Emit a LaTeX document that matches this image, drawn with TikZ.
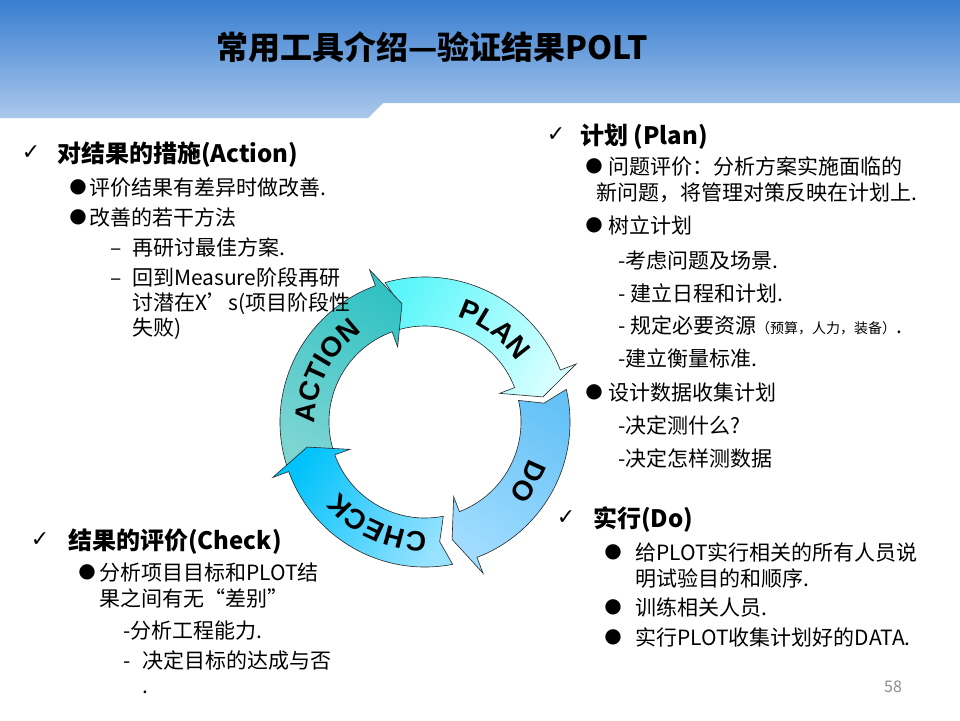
\documentclass[tikz,border=0pt]{standalone}
\usepackage{fontspec}
\setmainfont{Noto Sans CJK SC}
\newfontfamily\symfont{DejaVu Sans}
\newfontfamily\arcfont{Liberation Sans}
\usetikzlibrary{decorations.text}

\definecolor{hdrtop}{RGB}{56,126,208}
\definecolor{hdrbot}{RGB}{170,200,236}
\definecolor{plantail}{RGB}{92,246,250}
\definecolor{planhead}{RGB}{214,255,255}
\definecolor{dotail}{RGB}{102,194,246}
\definecolor{dohead}{RGB}{160,220,255}
\definecolor{checktail}{RGB}{150,226,255}
\definecolor{checkhead}{RGB}{0,194,250}
\definecolor{actiontail}{RGB}{125,213,210}
\definecolor{actionhead}{RGB}{51,194,196}

\tikzset{
	heading/.style={anchor=base west,inner sep=0pt,font=\fontsize{24}{28}\selectfont\bfseries},
	bodytext/.style={anchor=base west,inner sep=0pt,font=\fontsize{21}{25}\selectfont},
	checkmark/.style={anchor=center,inner sep=0pt,font=\symfont\fontsize{22}{22}\selectfont},
	bulletmark/.style={anchor=center,inner sep=0pt,font=\symfont\fontsize{20}{20}\selectfont},
	arrowbody/.style={draw=black!85,line width=0.6pt},
	arctext/.style={decorate,decoration={text along path,text={|\arcfont\bfseries\fontsize{28}{28}\selectfont|#1},text align=center}},
}
% ring of the cycle
\def\ringin{96}
\def\ringout{145}
\def\ringmid{120.5}
\def\barbin{80}
\def\barbout{162}
% tail, notch, head base, tip, tail colour, head colour
\newcommand{\cyclearrow}[6]{%
	\shadedraw[arrowbody,top color=#5,bottom color=#6,shading angle={(#1+#4)/2}]
		(#1:\ringout) -- (#2:\ringmid) -- (#1:\ringin)
		arc[start angle=#1,end angle=#3,radius=\ringin]
		-- (#3:\barbin) -- (#4:\ringmid) -- (#3:\barbout) -- (#3:\ringout)
		arc[start angle=#3,end angle=#1,radius=\ringout] -- cycle;
}

\begin{document}
\begin{tikzpicture}[x=1pt,y=1pt]
	\useasboundingbox (0,0) rectangle (960,-720);
	\fill[white] (0,0) rectangle (960,-720);
	\shade[top color=hdrtop,bottom color=hdrbot] (0,0) -- (960,0) -- (960,-103) -- (383,-103) -- (368,-118) -- (0,-118) -- cycle;
	\node (title) at (432,-59) [anchor=base,inner sep=0pt,font=\fontsize{32}{36}\selectfont\bfseries] {常用工具介绍—验证结果POLT};

	% PDCA cycle
	\begin{scope}[shift={(425,-422)}]
		\cyclearrow{106}{102}{21}{12}{plantail}{planhead}
		\cyclearrow{13}{9}{-69}{-77}{dotail}{dohead}
		\cyclearrow{198}{194}{110}{101}{actiontail}{actionhead}
		\cyclearrow{-79}{-83}{-160}{-168}{checktail}{checkhead}
		\path[arctext={PLAN}] (100:110) arc[start angle=100,end angle=6,radius=110];
		\path[arctext={DO}] (12:110) arc[start angle=12,end angle=-72,radius=110];
		\path[arctext={CHECK}] (-72:110) arc[start angle=-72,end angle=-158,radius=110];
		\path[arctext={ACTION}] (198:110) arc[start angle=198,end angle=108,radius=110];
	\end{scope}

	% Action
	\node (chkA) at (31,-153) [checkmark] {✓};
	\node (hdA) at (57,-162) [heading] {对结果的措施(Action)};
	\node (bulA1) at (78,-187) [bulletmark] {●};
	\node (txA1) at (89,-195) [bodytext] {评价结果有差异时做改善.};
	\node (bulA2) at (78,-217) [bulletmark] {●};
	\node (txA2) at (89,-225) [bodytext] {改善的若干方法};
	\node (dshA1) at (110,-255) [bodytext] {–};
	\node (txA3) at (132,-255) [bodytext] {再研讨最佳方案.};
	\node (dshA2) at (110,-285) [bodytext] {–};
	\node (txA4) at (132,-285) [bodytext] {回到Measure阶段再研};
	\node (txA5) at (132,-310) [bodytext] {讨潜在X’s(项目阶段性};
	\node (txA6) at (132,-335) [bodytext] {失败)};

	% Plan
	\node (chkP) at (556,-135) [checkmark] {✓};
	\node (hdP) at (580,-144) [heading] {计划 (Plan)};
	\node (bulP1) at (594,-166) [bulletmark] {●};
	\node (txP1) at (608,-174) [bodytext] {问题评价：分析方案实施面临的};
	\node (txP2) at (596,-200) [bodytext] {新问题，将管理对策反映在计划上.};
	\node (bulP2) at (594,-225) [bulletmark] {●};
	\node (txP3) at (608,-233) [bodytext] {树立计划};
	\node (txP4) at (618,-268) [bodytext] {-考虑问题及场景.};
	\node (txP5) at (618,-301) [bodytext] {- 建立日程和计划.};
	\node (txP6) at (618,-333) [bodytext] {- 规定必要资源{\fontsize{14}{16}\selectfont（预算，人力，装备）}.};
	\node (txP7) at (618,-366) [bodytext] {-建立衡量标准.};
	\node (bulP3) at (594,-392) [bulletmark] {●};
	\node (txP8) at (608,-400) [bodytext] {设计数据收集计划};
	\node (txP9) at (618,-433) [bodytext] {-决定测什么?};
	\node (txP10) at (618,-466) [bodytext] {-决定怎样测数据};

	% Check
	\node (chkC) at (40,-540) [checkmark] {✓};
	\node (hdC) at (68,-549) [heading] {结果的评价(Check)};
	\node (bulC1) at (87,-572) [bulletmark] {●};
	\node (txC1) at (99,-580) [bodytext] {分析项目目标和PLOT结};
	\node (txC2) at (99,-606) [bodytext] {果之间有无“差别”};
	\node (txC3) at (123,-638) [bodytext] {-分析工程能力.};
	\node (dshC) at (123,-668) [bodytext] {-};
	\node (txC4) at (142,-668) [bodytext] {决定目标的达成与否};
	\node (txC5) at (142,-693) [bodytext] {.};

	% Do
	\node (chkD) at (566,-518) [checkmark] {✓};
	\node (hdD) at (593,-527) [heading] {实行(Do)};
	\node (bulD1) at (613,-552) [bulletmark] {●};
	\node (txD1) at (635,-560) [bodytext] {给PLOT实行相关的所有人员说};
	\node (txD2) at (635,-586) [bodytext] {明试验目的和顺序.};
	\node (bulD2) at (613,-607) [bulletmark] {●};
	\node (txD3) at (635,-615) [bodytext] {训练相关人员.};
	\node (bulD3) at (613,-637) [bulletmark] {●};
	\node (txD4) at (635,-645) [bodytext] {实行PLOT收集计划好的DATA.};

	\node (page) at (893,-687) [inner sep=0pt,text=black!45,font=\fontsize{16}{16}\selectfont] {58};
\end{tikzpicture}
\end{document}
